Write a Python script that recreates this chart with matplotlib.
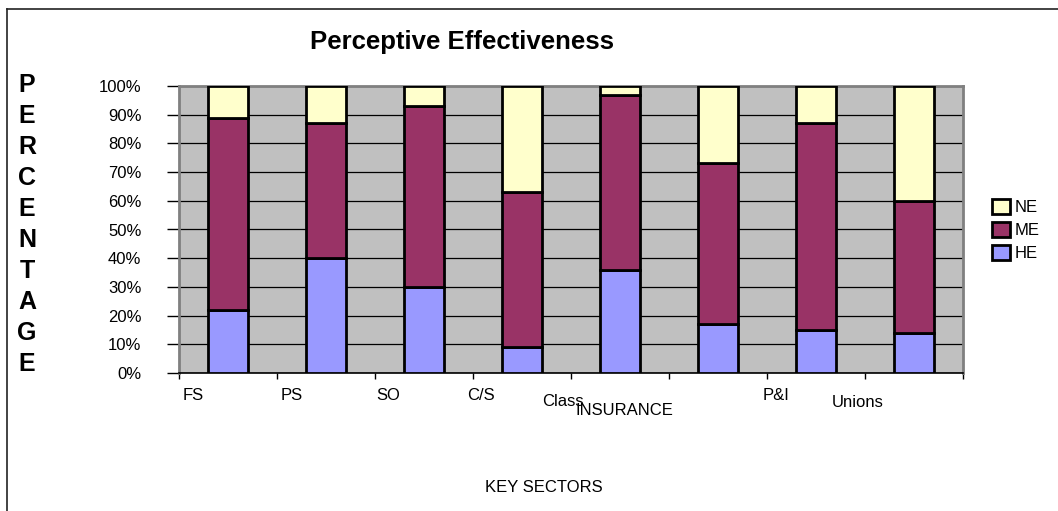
import numpy as np
import matplotlib.pyplot as plt
from matplotlib.patches import Patch
from matplotlib.lines import Line2D
from matplotlib.ticker import PercentFormatter

#==========================================================
# Data: share of respondents per key sector (%)
#==========================================================
sectors = ['FS', 'PS', 'SO', 'C/S', 'Class', 'INSURANCE', 'P&I', 'Unions']
he = [22, 40, 30, 9, 36, 17, 15, 14]
me = [67, 47, 63, 54, 61, 56, 72, 46]
ne = [11, 13, 7, 37, 3, 27, 13, 40]

# where the category labels sit (data x, pixels below the axis)
lab_x = [-0.36, 0.65, 1.63, 2.58, 3.42, 4.05, 5.59, 6.43]
lab_dy = [22, 22, 22, 22, 28, 37, 22, 29]

#==========================================================
# plot
#==========================================================
plt.rcParams['font.family'] = ['Liberation Sans', 'DejaVu Sans']

W, H = 1058, 511
fig = plt.figure(figsize=(W/100, H/100), dpi=100)
ax = fig.add_axes([179/W, 1-373/H, 784/W, 287/H])
ax.set_facecolor('#C0C0C0')

x = np.arange(len(sectors))
he_f = np.array(he)/100.
me_f = np.array(me)/100.
ne_f = np.array(ne)/100.

kw = dict(width=0.41, edgecolor='black', linewidth=2.0, zorder=3)
ax.bar(x, he_f, color='#9999FF', label='HE', **kw)
ax.bar(x, me_f, bottom=he_f, color='#993366', label='ME', **kw)
ax.bar(x, ne_f, bottom=he_f+me_f, color='#FFFFCC', label='NE', **kw)

ax.set_xlim(-0.5, len(sectors)-0.5)
ax.set_ylim(0, 1)
ax.set_yticks(np.arange(0, 1.001, 0.1))
ax.yaxis.set_major_formatter(PercentFormatter(1.0, decimals=0))
ax.set_xticks(np.arange(-0.5, len(sectors)), labels=[])
ax.grid(axis='y', color='black', linewidth=0.9, zorder=1)
ax.set_axisbelow(True)

for s in ['top', 'right', 'left']:
    ax.spines[s].set_color('#808080')
    ax.spines[s].set_linewidth(2.0)
ax.spines['bottom'].set_color('black')
ax.spines['bottom'].set_linewidth(1.2)

ax.tick_params(axis='y', direction='out', length=9, width=1.0, pad=18,
               labelsize=12)
ax.tick_params(axis='x', direction='out', length=4, width=1.0)

# category labels under the axis
for lx, dy, s in zip(lab_x, lab_dy, sectors):
    ax.annotate(s, xy=(lx, 0), xycoords=('data', 'axes fraction'),
                xytext=(0, -dy*0.72), textcoords='offset points',
                ha='center', va='center', fontsize=12)

fig.text(544/W, 1-488/H, 'KEY SECTORS', ha='center', va='center', fontsize=12)
fig.text(462/W, 1-42/H, 'Perceptive Effectiveness', ha='center', va='center',
         fontsize=18.5, fontweight='bold')

# stacked letters for the y label
for i, ch in enumerate('PERCENTAGE'):
    fig.text(27/W, 1-(85+31*i)/H, ch, ha='center', va='center',
             fontsize=18, fontweight='bold')

handles = [Patch(facecolor='#FFFFCC', edgecolor='black', linewidth=2.0),
           Patch(facecolor='#993366', edgecolor='black', linewidth=2.0),
           Patch(facecolor='#9999FF', edgecolor='black', linewidth=2.0)]
fig.legend(handles, ['NE', 'ME', 'HE'], loc='center left',
           bbox_to_anchor=(985/W, 1-230/H), frameon=False, fontsize=12,
           handlelength=1.1, handleheight=1.0, handletextpad=0.3,
           labelspacing=0.4, borderaxespad=0)

# chart border
fig.add_artist(Line2D([7/W, 1], [1-9/H, 1-9/H], color='#222222', linewidth=1.2))
fig.add_artist(Line2D([7/W, 7/W], [0, 1-9/H], color='#222222', linewidth=1.2))

fig.savefig('out.png', dpi=100)
plt.close()
